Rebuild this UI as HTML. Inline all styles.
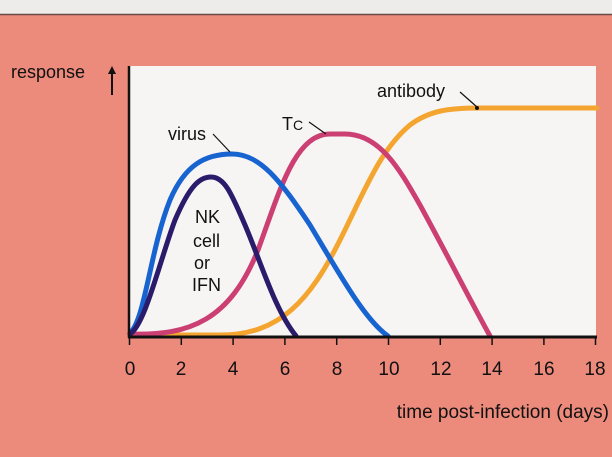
<!DOCTYPE html>
<html><head><style>
body{margin:0;width:612px;height:452px;overflow:hidden;background:#ec8a7c;font-family:"Liberation Sans",sans-serif;}
</style></head><body>
<svg width="612" height="452" xmlns="http://www.w3.org/2000/svg">
<rect x="0" y="0" width="612" height="14" fill="#eeeceb"/>
<line x1="0" y1="14.5" x2="612" y2="14.5" stroke="#6a4a48" stroke-width="1.5"/>
<rect x="129" y="66" width="467" height="271" fill="#f7f5f4"/>
<g fill="none" stroke-width="5" stroke-linecap="round">
<!-- antibody -->
<path d="M130,335 L220,335 C280,335 310,300 340,240 C365,190 380,150 410,125 C430,110 450,108 480,108 L597,108" stroke="#f3a530"/>
<!-- Tc -->
<path d="M130,334 C190,336 230,320 258,250 C280,190 295,134 330,134 L345,134 C380,134 400,170 420,205 C450,260 470,300 490,336" stroke="#cc3f73"/>
<!-- virus -->
<path d="M130,333 C145,320 150,250 170,200 C185,165 205,154 232,154 C260,154 280,180 310,225 C340,275 365,320 388,336" stroke="#1763d0"/>
<!-- NK -->
<path d="M130,334 C145,325 160,260 175,220 C190,185 200,177 211,177 C225,177 232,195 245,225 C262,265 275,310 296,336" stroke="#2a1c6a"/>
</g>
<line x1="129" y1="66" x2="129" y2="338" stroke="#111" stroke-width="2.5"/>
<line x1="128" y1="337" x2="597" y2="337" stroke="#111" stroke-width="3"/>
<g stroke="#111" stroke-width="1.5">
<line x1="129.5" y1="337" x2="129.5" y2="345"/><line x1="181.3" y1="337" x2="181.3" y2="345"/><line x1="233.1" y1="337" x2="233.1" y2="345"/><line x1="284.9" y1="337" x2="284.9" y2="345"/><line x1="336.7" y1="337" x2="336.7" y2="345"/><line x1="388.5" y1="337" x2="388.5" y2="345"/><line x1="440.3" y1="337" x2="440.3" y2="345"/><line x1="492.1" y1="337" x2="492.1" y2="345"/><line x1="543.9" y1="337" x2="543.9" y2="345"/><line x1="595.5" y1="337" x2="595.5" y2="345"/>
</g>
<g font-size="19" fill="#111" text-anchor="middle">
<text x="130" y="375">0</text><text x="181" y="375">2</text><text x="233" y="375">4</text><text x="285" y="375">6</text><text x="337" y="375">8</text><text x="389" y="375">10</text><text x="441" y="375">12</text><text x="492" y="375">14</text><text x="544" y="375">16</text><text x="595" y="375">18</text>
</g>
<text x="609" y="418" font-size="19" fill="#111" text-anchor="end">time post-infection (days)</text>
<text x="11" y="78" font-size="18" fill="#111">response</text>
<line x1="112" y1="95" x2="112" y2="72" stroke="#111" stroke-width="2"/>
<polygon points="108,74 116,74 112,66" fill="#111"/>
<g font-size="18" fill="#111">
<text x="168" y="140">virus</text>
<text x="377" y="97">antibody</text>
<text x="282" y="130">T<tspan font-size="14">C</tspan></text>
<text x="195" y="223">NK</text>
<text x="193" y="247">cell</text>
<text x="194" y="269">or</text>
<text x="192" y="291">IFN</text>
</g>
<g stroke="#111" stroke-width="1.2">
<line x1="213" y1="134" x2="230" y2="152"/>
<line x1="460" y1="92" x2="477" y2="107"/>
<line x1="309" y1="122" x2="326" y2="134"/>
</g>
<circle cx="477" cy="108" r="2" fill="#111"/>
</svg>
</body></html>
